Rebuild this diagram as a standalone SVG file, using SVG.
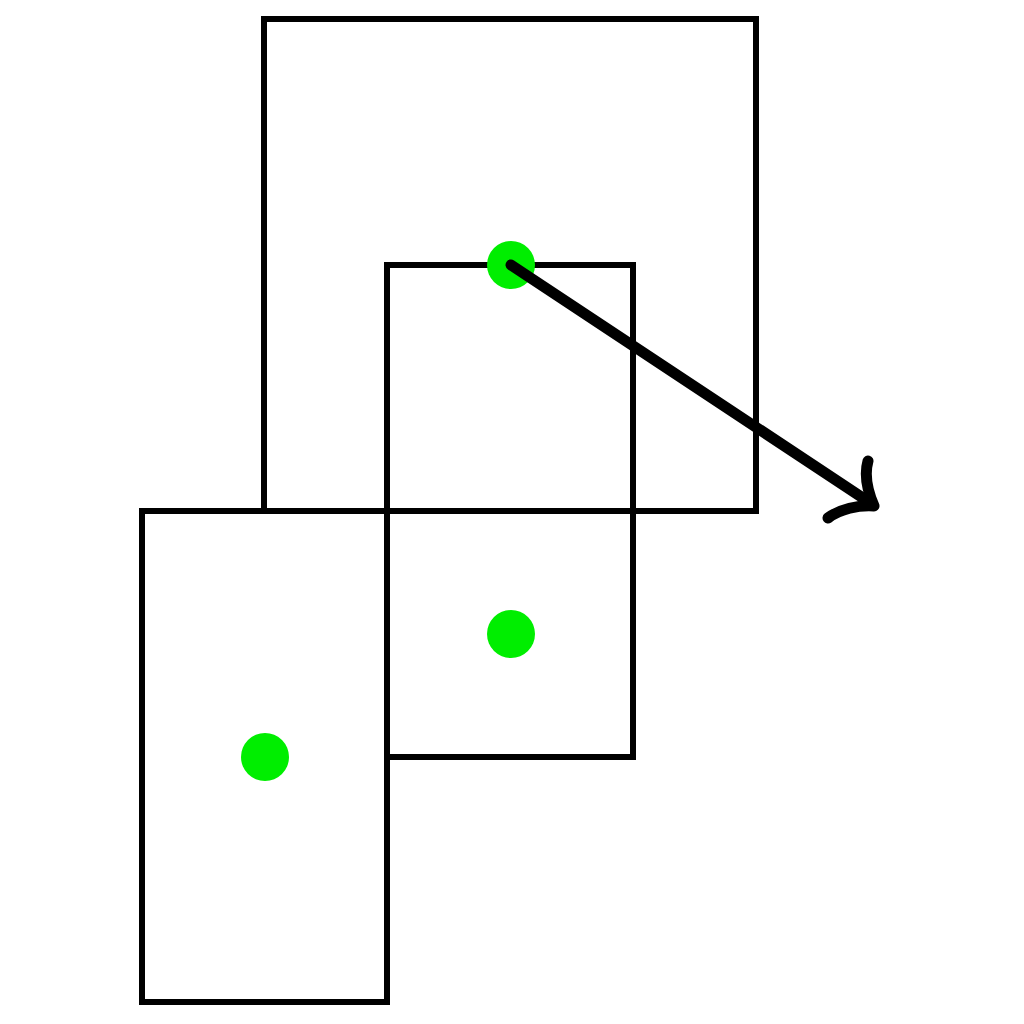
<svg xmlns="http://www.w3.org/2000/svg" width="1024" height="1024" viewBox="0 0 1024 1024">
<style>
.box{fill:none;stroke:#000;stroke-width:6}
.dot{fill:#00ee00}
.arr{fill:none;stroke:#000;stroke-width:11;stroke-linecap:round;stroke-linejoin:round}
</style>
<rect width="1024" height="1024" fill="#fff"/>
<g id="node-top"><rect class="box" x="264" y="19" width="492" height="492"/></g>
<g id="node-mid"><rect class="box" x="387" y="265" width="246" height="492"/></g>
<g id="node-left"><rect class="box" x="142" y="511" width="245" height="491"/></g>
<g id="dots">
<circle class="dot" cx="511" cy="265" r="24"/>
<circle class="dot" cx="511" cy="634" r="24"/>
<circle class="dot" cx="265" cy="757" r="24"/>
</g>
<g id="connectors">
<path class="arr" d="M511,265 L872,504"/>
<path class="arr" d="M868,461 C864,475 868,492 874,506 C858,505 840,509 828,518"/>
</g>
</svg>
